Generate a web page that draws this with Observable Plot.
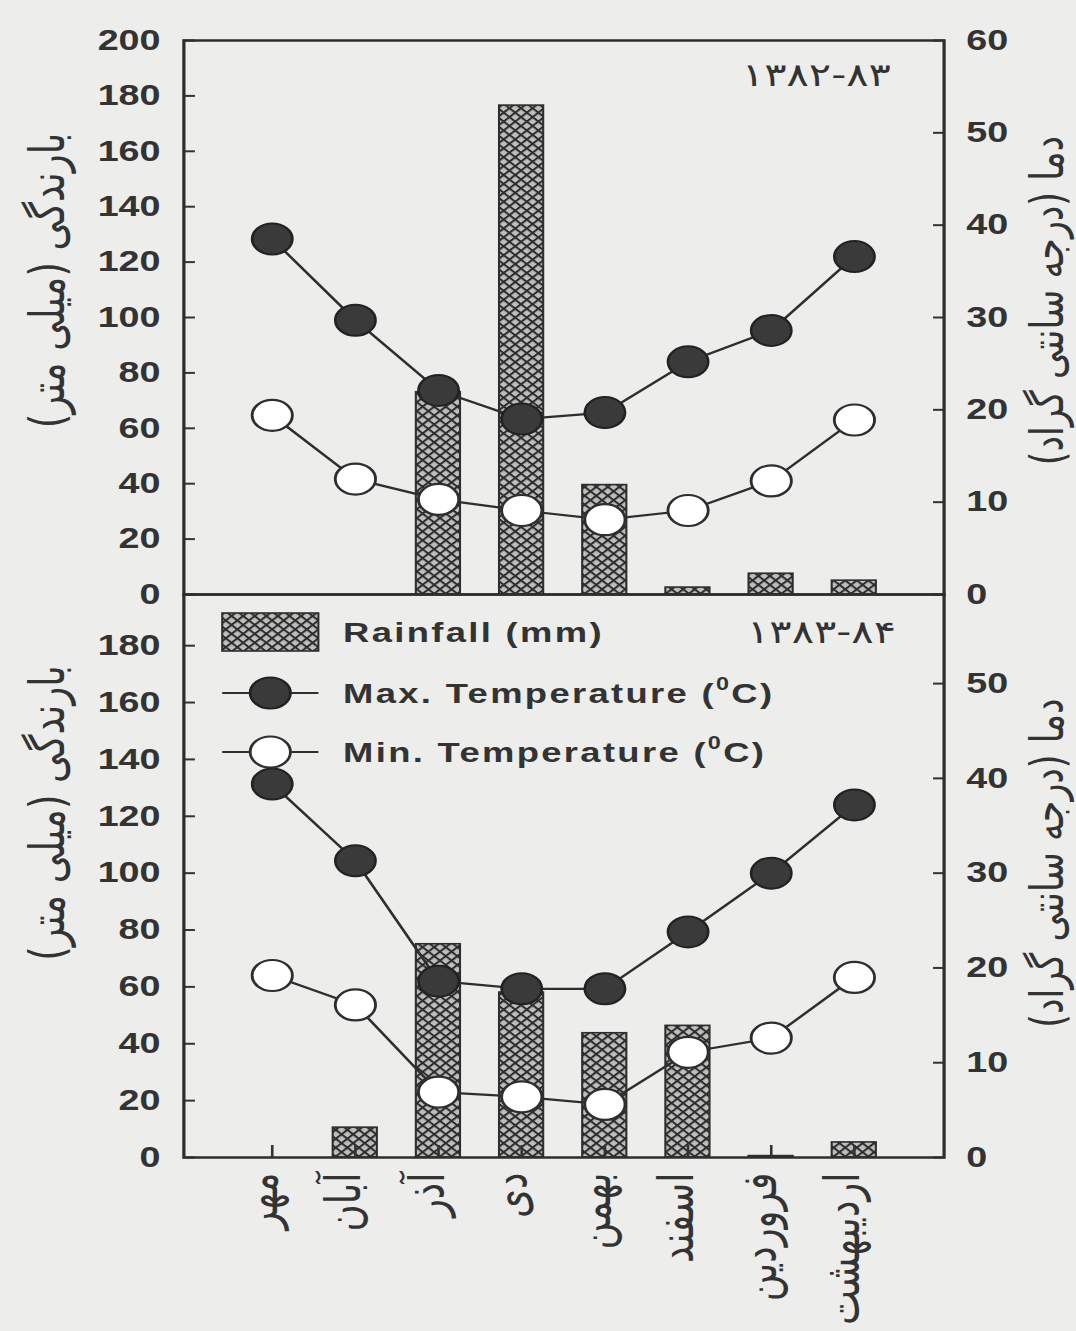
<!DOCTYPE html>
<html>
<head>
<meta charset="utf-8">
<script src="https://cdn.jsdelivr.net/npm/d3@7"></script>
<script src="https://cdn.jsdelivr.net/npm/@observablehq/plot@0.6"></script>
<style>
  html, body { margin: 0; padding: 0; background: #ededeb; }
  #wrap { position: relative; width: 828px; height: 1331px; transform: scale(1.2995, 1); transform-origin: 0 0; }
  #wrap svg.plot-panel { display: block; overflow: visible; }
  #legend { position: absolute; left: 0; top: 0; overflow: visible; pointer-events: none; }
</style>
</head>
<body>
<svg width="0" height="0" style="position:absolute">
  <defs>
    <pattern id="xhatch" width="6.3" height="6.3" patternUnits="userSpaceOnUse" patternTransform="rotate(45)">
      <rect width="6.3" height="6.3" fill="#bdbdbb"/>
      <path d="M0,0.9H6.3M0.9,0V6.3" stroke="#2c2c2c" stroke-width="1.8"/>
    </pattern>
  </defs>
</svg>
<div id="wrap">
  <div id="top"></div>
  <div id="bot"></div>
</div>
<script>
// ---- data ----
const months = ["مهر", "آبان", "آذر", "دی", "بهمن", "اسفند", "فروردین", "اردیبهشت"];

const rain8283 = [0, 0, 73, 176.5, 39.5, 2.5, 7.5, 5];
const tmax8283 = [38.5, 29.7, 22.1, 19.0, 19.7, 25.2, 28.6, 36.6];
const tmin8283 = [19.4, 12.5, 10.3, 9.1, 8.1, 9.1, 12.3, 18.9];

const rain8384 = [0, 10.5, 75, 58, 43.7, 46.3, 0.5, 5.3];
const tmax8384 = [39.4, 31.3, 18.6, 17.8, 17.8, 23.8, 30.0, 37.2];
const tmin8384 = [19.2, 16.1, 6.9, 6.4, 5.6, 11.1, 12.6, 19.0];

const rainTicksTop = [0, 20, 40, 60, 80, 100, 120, 140, 160, 180, 200];
const tempTicksTop = [0, 10, 20, 30, 40, 50, 60];
const rainTicksBot = [0, 20, 40, 60, 80, 100, 120, 140, 160, 180];
const tempTicksBot = [0, 10, 20, 30, 40, 50];

const yearTop = "۱۳۸۲-۸۳";
const yearBot = "۱۳۸۳-۸۴";
const leftTitle = "بارندگی (میلی متر)";
const rightTitle = "دما (درجه سانتی گراد)";
const legendLabels = ["Rainfall (mm)", "Max. Temperature (", "Min. Temperature ("];

// temperature (°C) mapped onto rainfall units: 60 °C ↔ 200 mm
const K = 200 / 60;
const ink = "#2e2e2e";

function panel(o) {
  const data = months.map((m, i) => ({month: m, rain: o.rain[i], tmax: o.tmax[i] * K, tmin: o.tmin[i] * K}));
  const marks = [
    Plot.barY(data, {filter: d => d.rain > 0, x: "month", y: "rain", fill: "url(#xhatch)", stroke: ink, strokeWidth: 1.6}),
    Plot.line(data, {x: "month", y: "tmax", stroke: ink, strokeWidth: 2.2}),
    Plot.line(data, {x: "month", y: "tmin", stroke: ink, strokeWidth: 2.2}),
    Plot.dot(data, {x: "month", y: "tmax", r: 15.5, fill: "#3a3a3a", stroke: "#222", strokeWidth: 2}),
    Plot.dot(data, {x: "month", y: "tmin", r: 15.5, fill: "#ffffff", stroke: ink, strokeWidth: 2.2}),
    Plot.axisY({anchor: "left", ticks: o.rainTicks, tickSize: -9, tickFormat: () => "", strokeWidth: 2, label: null}),
    Plot.axisY({anchor: "left", ticks: o.rainTicks, tickSize: 0, tickPadding: 18, label: null}),
    Plot.axisY({anchor: "right", ticks: o.tempTicks.map(t => t * K), tickSize: -9, tickFormat: () => "", strokeWidth: 2, label: null}),
    Plot.axisY({anchor: "right", ticks: o.tempTicks.map(t => t * K), tickSize: 0, tickPadding: 17, tickFormat: d => Math.round(d / K), label: null}),
    Plot.text([o.year], {text: d => d, frameAnchor: "top-right", textAnchor: "end", dx: o.yearDx, dy: o.yearDy, lineAnchor: "middle", fontFamily: "DejaVu Sans", fontWeight: "normal", fontSize: 32}),
    Plot.text([leftTitle], {text: d => d, frameAnchor: "left", textAnchor: "middle", rotate: -90, dx: -104, dy: o.leftDy, fontFamily: "DejaVu Sans", fontWeight: "normal", fontSize: 37}),
    Plot.text([rightTitle], {text: d => d, frameAnchor: "right", textAnchor: "middle", rotate: -90, dx: 80, dy: o.rightDy, fontFamily: "DejaVu Sans", fontWeight: "normal", fontSize: 35}),
    Plot.frame({stroke: ink, strokeWidth: 2.5})
  ];
  if (o.showX) {
    marks.push(Plot.axisX({anchor: "bottom", tickSize: -12, tickFormat: () => "", strokeWidth: 2, label: null}));
    marks.push(Plot.axisX({anchor: "bottom", tickSize: 0, tickPadding: 15, tickRotate: -90, dx: -8, label: null, fontFamily: "DejaVu Sans", fontWeight: "normal", fontSize: 37}));
  }
  const svg = Plot.plot({
    width: 828,
    height: o.height,
    marginLeft: 141,
    marginRight: 102,
    marginTop: o.marginTop,
    marginBottom: o.marginBottom,
    style: {background: "transparent", color: "#333", fontFamily: "'Liberation Sans', Arial, sans-serif", fontSize: "29px", fontWeight: "bold", overflow: "visible"},
    x: {type: "band", domain: months, paddingInner: 0.466, paddingOuter: 0.743, axis: null, label: null},
    y: {domain: [0, o.top], axis: null, label: null},
    marks
  });
  svg.classList.add("plot-panel");
  return svg;
}

document.getElementById("top").appendChild(panel({
  rain: rain8283, tmax: tmax8283, tmin: tmin8283, year: yearTop,
  top: 200, rainTicks: rainTicksTop, tempTicks: tempTicksTop,
  height: 594, marginTop: 40, marginBottom: 0, showX: false,
  yearDx: -41, yearDy: 35, leftDy: -37, rightDy: -17
}));
document.getElementById("bot").appendChild(panel({
  rain: rain8384, tmax: tmax8384, tmin: tmin8384, year: yearBot,
  top: 198, rainTicks: rainTicksBot, tempTicks: tempTicksBot,
  height: 737, marginTop: 0, marginBottom: 174, showX: true,
  yearDx: -37, yearDy: 38, leftDy: -63, rightDy: -13
}));

// ---- legend (inside the lower panel, top-left) ----
const lg = d3.select("#wrap").append("svg").attr("id", "legend").attr("width", 828).attr("height", 1331);
const rows = [632, 693, 752];
const x0 = 171, x1 = 245, xc = 208, tx = 264;
lg.append("rect").attr("x", x0).attr("y", rows[0] - 19).attr("width", x1 - x0).attr("height", 38)
  .attr("fill", "url(#xhatch)").attr("stroke", ink).attr("stroke-width", 1.6);
[1, 2].forEach(k => {
  lg.append("line").attr("x1", x0).attr("x2", x1).attr("y1", rows[k]).attr("y2", rows[k]).attr("stroke", ink).attr("stroke-width", 2.2);
  lg.append("circle").attr("cx", xc).attr("cy", rows[k]).attr("r", 15.5)
    .attr("fill", k === 1 ? "#3a3a3a" : "#ffffff").attr("stroke", k === 1 ? "#222" : ink).attr("stroke-width", 2.2);
});
legendLabels.forEach((s, k) => {
  const t = lg.append("text").attr("x", tx).attr("y", rows[k]).attr("dy", "0.36em")
    .attr("fill", "#333").attr("font-family", "'Liberation Sans', Arial, sans-serif")
    .attr("font-weight", "bold").attr("font-size", 28).attr("letter-spacing", 1.8).text(s);
  if (k > 0) {
    t.append("tspan").attr("font-size", 18).attr("dy", "-0.75em").text("0");
    t.append("tspan").attr("dy", "0.47em").text("C)");
  }
});
</script>
</body>
</html>
